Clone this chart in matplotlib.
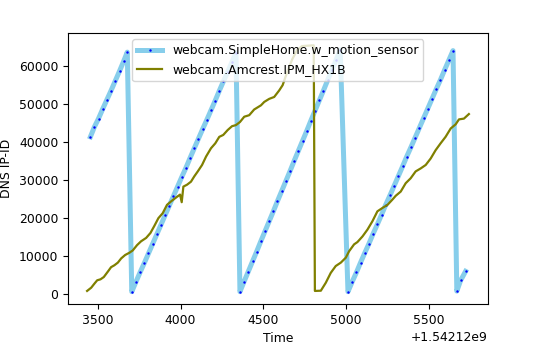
import numpy as np
import matplotlib
matplotlib.use("Agg")
import matplotlib.pyplot as plt

T0 = 1542120000

# webcam.SimpleHome.w_motion_sensor  (seconds after T0, IP-ID)
cam1_t = [3455, 3479, 3504, 3530, 3555, 3580, 3606, 3631, 3656, 3678,
          3705, 3730, 3755, 3781, 3806, 3831, 3856, 3881, 3907, 3932,
          3957, 3982, 4007, 4033, 4058, 4083, 4108, 4133, 4159, 4184,
          4209, 4234, 4259, 4285, 4310, 4335,
          4359, 4384, 4409, 4435, 4460, 4485, 4510, 4536, 4561, 4586,
          4611, 4637, 4662, 4687, 4712, 4738, 4763, 4788, 4813, 4839,
          4864, 4889, 4914, 4940, 4965,
          5012, 5037, 5063, 5088, 5113, 5139, 5164, 5190, 5215, 5240,
          5266, 5291, 5317, 5342, 5367, 5393, 5418, 5444, 5469, 5494,
          5520, 5545, 5571, 5596, 5621, 5647,
          5670, 5693, 5723]
cam1_id = [41400, 44000, 46200, 48800, 51200, 53600, 56200, 58700, 61300, 63700,
           650, 3200, 5700, 8200, 10700, 13200, 15700, 18200, 20800, 23300,
           25800, 28300, 30800, 33300, 35900, 38400, 40900, 43400, 45900, 48400,
           50900, 53500, 56000, 58500, 61000, 63600,
           650, 3300, 5900, 8600, 11200, 13900, 16500, 19200, 21800, 24500,
           27100, 29800, 32400, 35100, 37700, 40400, 43000, 45700, 48300, 51000,
           53600, 56300, 58900, 61600, 64300,
           650, 3200, 5700, 8300, 10800, 13300, 15900, 18400, 20900, 23500,
           26000, 28500, 31100, 33600, 36200, 38700, 41200, 43800, 46300, 48800,
           51400, 53900, 56400, 59000, 61500, 64100,
           800, 3600, 6000]

# webcam.Amcrest.IPM_HX1B
cam2_t = [3435, 3460, 3479, 3496, 3516, 3536, 3560, 3580, 3600, 3621,
          3641, 3665, 3691, 3711, 3737, 3761, 3792, 3818, 3842, 3866,
          3892, 3918, 3948, 3978, 3997, 4007, 4017, 4039, 4063, 4083,
          4104, 4130, 4154, 4184, 4210, 4234, 4258, 4285, 4311, 4335,
          4359, 4385, 4415, 4445, 4486, 4506, 4536, 4566, 4596, 4617,
          4645, 4675, 4705, 4735, 4770, 4805, 4812, 4848, 4878, 4908,
          4938, 4969, 4999, 5019, 5049, 5069, 5100, 5130, 5160, 5190,
          5221, 5251, 5281, 5301, 5331, 5361, 5391, 5421, 5452, 5482,
          5512, 5542, 5572, 5602, 5633, 5663, 5683, 5713, 5743]
cam2_id = [840, 1700, 2750, 3640, 3900, 4500, 5900, 7100, 7600, 8300,
           9400, 10300, 10900, 11500, 12900, 13900, 14800, 16100, 18000, 20000,
           21300, 23500, 24600, 25600, 26200, 24200, 28300, 28800, 29600, 31000,
           32300, 34000, 36200, 38400, 39700, 41400, 41900, 43200, 44200, 44500,
           45300, 46700, 47100, 48600, 49700, 50600, 51400, 51900, 53600, 55000,
           58500, 61800, 64300, 65300, 65400, 65500, 840, 900, 3000, 5600,
           7400, 8300, 9600, 11300, 13100, 13700, 15200, 17000, 19200, 21800,
           22700, 23500, 24900, 25900, 27000, 29200, 30500, 32300, 33100, 34000,
           35700, 37900, 39700, 41400, 43600, 44700, 46000, 46200, 47400]

plt.rcParams['font.size'] = 8.9

fig = plt.figure(figsize=(5.41, 3.49), dpi=100)
ax = fig.add_axes([0.1257, 0.129, 0.7763, 0.7765])

ax.plot(T0 + np.array(cam1_t), cam1_id, marker='.', markerfacecolor='blue',
        markeredgecolor='blue', markersize=1.5, color='skyblue', linewidth=3.6,
        label='webcam.SimpleHome.w_motion_sensor')
ax.plot(T0 + np.array(cam2_t), cam2_id, color='olive', linewidth=1.6,
        label='webcam.Amcrest.IPM_HX1B')

ax.set_xlabel('Time')
ax.set_ylabel('DNS IP-ID')
ax.legend(loc='upper center')

fig.savefig('out.png', dpi=100)
